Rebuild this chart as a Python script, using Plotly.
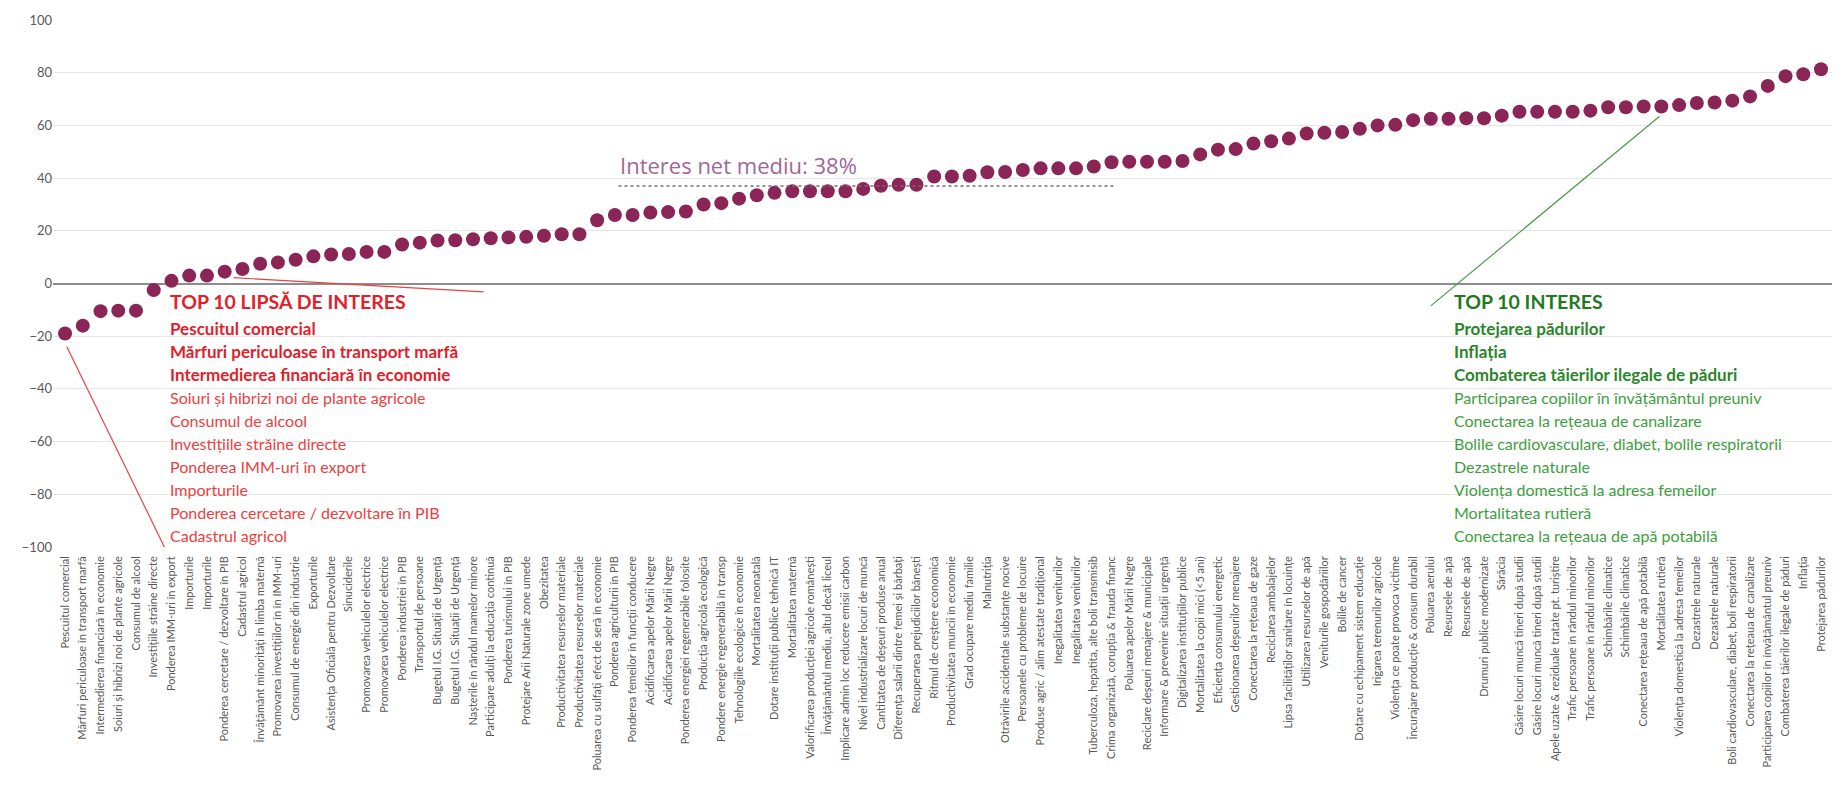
import plotly.graph_objects as go

labels = [
    "Pescuitul comercial",
    "Mărfuri periculoase în transport marfă",
    "Intermedierea financiară în economie",
    "Soiuri și hibrizi noi de plante agricole",
    "Consumul de alcool",
    "Investițiile străine directe",
    "Ponderea IMM-uri în export",
    "Importurile",
    "Importurile",
    "Ponderea cercetare / dezvoltare în PIB",
    "Cadastrul agricol",
    "Învățământ minorități în limba maternă",
    "Promovarea investițiilor în în IMM-uri",
    "Consumul de energie din industrie",
    "Exporturile",
    "Asistența Oficială pentru Dezvoltare",
    "Sinuciderile",
    "Promovarea vehiculelor electrice",
    "Promovarea vehiculelor electrice",
    "Ponderea industriei în PIB",
    "Transportul de persoane",
    "Bugetul I.G. Situații de Urgență",
    "Bugetul I.G. Situații de Urgență",
    "Nașterile în rândul mamelor minore",
    "Participare adulți la educația continuă",
    "Ponderea turismului în PIB",
    "Protejare Arii Naturale zone umede",
    "Obezitatea",
    "Productivitatea resurselor materiale",
    "Productivitatea resurselor materiale",
    "Poluarea cu sulfați efect de seră în economie",
    "Ponderea agriculturii în PIB",
    "Ponderea femeilor în funcții conducere",
    "Acidificarea apelor Mării Negre",
    "Acidificarea apelor Mării Negre",
    "Ponderea energiei regenerabile folosite",
    "Producția agricolă ecologică",
    "Pondere energie regenerabilă în transp",
    "Tehnologiile ecologice în economie",
    "Mortalitatea neonatală",
    "Dotare instituții publice tehnică IT",
    "Mortalitatea maternă",
    "Valorificarea producției agricole românești",
    "Învățământul mediu, altul decât liceul",
    "Implicare admin loc reducere emisii carbon",
    "Nivel industrializare locuri de muncă",
    "Cantitatea de deșeuri produse anual",
    "Diferența salarii dintre femei și bărbați",
    "Recuperarea prejudiciilor bănești",
    "Ritmul de creștere economică",
    "Productivitatea muncii în economie",
    "Grad ocupare mediu familie",
    "Malnutriția",
    "Otrăvirile accidentale substanțe nocive",
    "Persoanele cu probleme de locuire",
    "Produse agric / alim atestate tradițional",
    "Inegalitatea veniturilor",
    "Inegalitatea veniturilor",
    "Tuberculoza, hepatita, alte boli transmisib",
    "Crima organizată, corupția & frauda financ",
    "Poluarea apelor Mării Negre",
    "Reciclare deșeuri menajere & municipale",
    "Informare & prevenire situații urgență",
    "Digitalizarea instituțiilor publice",
    "Mortalitatea la copii mici (<5 ani)",
    "Eficiența consumului energetic",
    "Gestionarea deșeurilor menajere",
    "Conectarea la rețeaua de gaze",
    "Reciclarea ambalajelor",
    "Lipsa facilităților sanitare în locuințe",
    "Utilizarea resurselor de apă",
    "Veniturile gospodăriilor",
    "Bolile de cancer",
    "Dotare cu echipament sistem educație",
    "Irigarea terenurilor agricole",
    "Violența ce poate provoca victime",
    "Încurajare producție & consum durabil",
    "Poluarea aerului",
    "Resursele de apă",
    "Resursele de apă",
    "Drumuri publice modernizate",
    "Sărăcia",
    "Găsire locuri muncă tineri după studii",
    "Găsire locuri muncă tineri după studii",
    "Apele uzate & reziduale tratate pt. turiștire",
    "Trafic persoane în rândul minorilor",
    "Trafic persoane în rândul minorilor",
    "Schimbările climatice",
    "Schimbările climatice",
    "Conectarea rețeaua de apă potabilă",
    "Mortalitatea rutieră",
    "Violența domestică la adresa femeilor",
    "Dezastrele naturale",
    "Dezastrele naturale",
    "Boli cardiovasculare, diabet, boli respiratorii",
    "Conectarea la rețeaua de canalizare",
    "Participarea copiilor în învățământul preuniv",
    "Combaterea tăierilor ilegale de păduri",
    "Inflația",
    "Protejarea pădurilor",
]

values = [
    -19.0, -16.0, -10.5, -10.3, -10.3, -2.5, 1.0, 3.0, 3.0, 4.5,
    5.5, 7.5, 8.0, 9.0, 10.3, 11.0, 11.2, 12.0, 12.0, 14.8,
    15.5, 16.3, 16.4, 16.8, 17.2, 17.5, 17.7, 18.1, 18.7, 18.7,
    24.0, 26.0, 26.0, 26.9, 27.1, 27.3, 30.0, 30.5, 32.2, 33.5,
    34.4, 35.0, 35.0, 35.0, 35.0, 35.9, 37.1, 37.5, 37.5, 40.6,
    40.6, 40.9, 42.2, 42.3, 43.1, 43.7, 43.7, 43.7, 44.4, 46.0,
    46.2, 46.2, 46.2, 46.5, 49.0, 50.8, 51.0, 53.1, 54.0, 55.0,
    56.9, 57.2, 57.5, 58.7, 60.0, 60.2, 62.0, 62.5, 62.5, 62.7,
    62.7, 63.7, 65.2, 65.2, 65.2, 65.2, 65.6, 66.9, 66.9, 67.2,
    67.2, 67.7, 68.5, 68.7, 69.4, 71.0, 75.0, 78.7, 79.4, 81.3,
]

y_ticks = [-100, -80, -60, -40, -20, 0, 20, 40, 60, 80, 100]

average_interest = 38
average_label = "Interes net mediu: 38%"

low_title = "TOP 10 LIPSĂ DE INTERES"
low_items = [
    "Pescuitul comercial",
    "Mărfuri periculoase în transport marfă",
    "Intermedierea financiară în economie",
    "Soiuri și hibrizi noi de plante agricole",
    "Consumul de alcool",
    "Investițiile străine directe",
    "Ponderea IMM-uri în export",
    "Importurile",
    "Ponderea cercetare / dezvoltare în PIB",
    "Cadastrul agricol",
]

high_title = "TOP 10 INTERES"
high_items = [
    "Protejarea pădurilor",
    "Inflația",
    "Combaterea tăierilor ilegale de păduri",
    "Participarea copiilor în învățământul preuniv",
    "Conectarea la rețeaua de canalizare",
    "Bolile cardiovasculare, diabet, bolile respiratorii",
    "Dezastrele naturale",
    "Violența domestică la adresa femeilor",
    "Mortalitatea rutieră",
    "Conectarea la rețeaua de apă potabilă",
]

x_pos = list(range(len(labels)))

FONT = "Lato, 'Open Sans', sans-serif"
DOT = "#8A2556"
RED = "#E3202A"
RED_LIGHT = "#EC4040"
GREEN = "#1F7A1F"
GREEN_BOLD = "#2A862A"
GREEN_LIGHT = "#3E9E3E"

fig = go.Figure()
fig.add_trace(go.Scatter(
    x=x_pos, y=values, mode="markers",
    marker=dict(size=14, color=DOT, line=dict(width=0)),
    hovertext=labels, hoverinfo="text+y", showlegend=False,
))

shapes = []
# average dotted line
shapes.append(dict(type="line", xref="x", yref="y", x0=31.2, x1=59.2,
                   y0=average_interest - 1, y1=average_interest - 1,
                   line=dict(color="#7a6a78", width=1.5, dash="dot")))
# red callout lines
shapes.append(dict(type="line", xref="x", yref="y", x0=0.1, y0=-24, x1=5.6, y1=-100,
                   line=dict(color=RED_LIGHT, width=1.2)))
shapes.append(dict(type="line", xref="x", yref="y", x0=9.5, y0=2.2, x1=23.6, y1=-3.2,
                   line=dict(color=RED_LIGHT, width=1.2)))
# green callout lines
shapes.append(dict(type="line", xref="x", yref="y", x0=77.0, y0=-8.5, x1=89.9, y1=63.5,
                   line=dict(color="#4a9a4a", width=1.2)))
shapes.append(dict(type="line", xref="x", yref="y", x0=99.85, y0=-9.5, x1=99.85, y1=75.5,
                   line=dict(color="#6a9a6a", width=1.5)))

annotations = []
annotations.append(dict(x=31.2, y=45, xref="x", yref="y", text=average_label,
                        showarrow=False, xanchor="left", yanchor="middle",
                        font=dict(family="'Open Sans', sans-serif", size=22, color="#A0679A")))

TITLE_Y = -6.8
ITEM_Y0 = -16.9
STEP = 8.75


def add_list(x, title, items, c_title, c_bold, c_light):
    annotations.append(dict(x=x, y=TITLE_Y, xref="x", yref="y", text="<b>" + title + "</b>",
                            showarrow=False, xanchor="left", yanchor="middle",
                            font=dict(family=FONT, size=19.5, color=c_title)))
    for i, it in enumerate(items):
        bold = i < 3
        annotations.append(dict(x=x, y=ITEM_Y0 - STEP * i, xref="x", yref="y",
                                text=("<b>" + it + "</b>") if bold else it,
                                showarrow=False, xanchor="left", yanchor="middle",
                                font=dict(family=FONT, size=17 if bold else 16,
                                          color=c_bold if bold else c_light)))


add_list(5.82, low_title, low_items, RED, RED, RED_LIGHT)
add_list(78.17, high_title, high_items, GREEN, GREEN_BOLD, GREEN_LIGHT)

fig.update_layout(
    width=1845, height=792,
    margin=dict(l=53, r=13, t=13, b=245),
    paper_bgcolor="white", plot_bgcolor="white",
    font=dict(family=FONT, color="#595959"),
    shapes=shapes, annotations=annotations,
    xaxis=dict(
        range=[-0.68, 99.62], tickmode="array", tickvals=x_pos, ticktext=labels,
        tickangle=-90, tickfont=dict(size=11, color="#595959"),
        ticklabelstandoff=6,
        showgrid=False, zeroline=False, showline=False, ticks="",
    ),
    yaxis=dict(
        range=[-100, 100], tickmode="array", tickvals=y_ticks,
        tickfont=dict(size=13, color="#595959"),
        showgrid=True, gridcolor="#e6e6e6", gridwidth=1,
        zeroline=True, zerolinecolor="#8c8c8c", zerolinewidth=2,
        showline=False, ticks="",
    ),
)

fig.write_html("out.html", config={"displayModeBar": False},
               post_script="document.body.style.margin='0';")
